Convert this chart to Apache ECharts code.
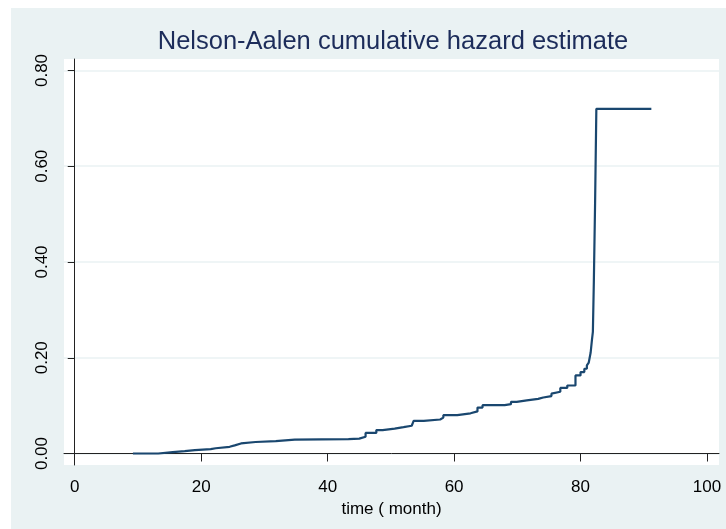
<!DOCTYPE html>
<html>
<head>
<meta charset="utf-8">
<script src="https://cdn.jsdelivr.net/npm/echarts@6/dist/echarts.min.js"></script>
<style>
  html, body { margin: 0; padding: 0; background: #ffffff; }
  #chart { position: absolute; left: 11px; top: 8px; width: 715px; height: 521px; }
</style>
</head>
<body>
<div id="chart"></div>
<script>
// step times (months) and Nelson-Aalen cumulative hazard after each step
const times = [9.2, 13.2, 15.5, 17.4, 19.0, 21.5, 22.3, 24.5, 25.3, 26.3, 28.6, 31.8, 34.8,
  43.3, 45.0, 46.0, 47.7, 48.7, 50.6, 52.0, 53.3, 53.6, 55.2, 57.8, 58.3, 60.5, 62.6, 63.7,
  64.5, 68.0, 69.0, 69.9, 71.5, 73.3, 74.1, 75.4, 75.7, 76.8, 77.9, 79.2, 80.0, 80.6, 81.0,
  81.3, 81.6, 81.8, 81.95, 82.1, 82.3, 82.5, 91.2];
const hazard = [0, 0.003, 0.005, 0.007, 0.009, 0.011, 0.014, 0.017, 0.021, 0.024, 0.026, 0.029, 0.030,
  0.031, 0.035, 0.043, 0.049, 0.052, 0.055, 0.058, 0.061, 0.068, 0.071, 0.075, 0.080, 0.084, 0.088, 0.096,
  0.101, 0.103, 0.108, 0.111, 0.114, 0.117, 0.120, 0.125, 0.129, 0.137, 0.142, 0.163, 0.170, 0.177, 0.184,
  0.190, 0.211, 0.237, 0.254, 0.356, 0.522, 0.720, 0.720];
const xTicks = [0, 20, 40, 60, 80, 100];
const yTicks = [0, 0.2, 0.4, 0.6, 0.8];

const chart = echarts.init(document.getElementById("chart"));
const font = "'Liberation Sans', Arial, sans-serif";

chart.setOption({
  backgroundColor: "#eaf2f3",
  animation: false,
  title: {
    text: "Nelson-Aalen cumulative hazard estimate",
    left: 382,
    top: 21,
    padding: 0,
    textAlign: "center",
    textStyle: { fontFamily: font, fontSize: 25.5, fontWeight: "normal", color: "#1c2c5a" },
  },
  grid: {
    left: 53, right: 7, top: 51, bottom: 64,
    show: true, backgroundColor: "#ffffff", borderWidth: 0,
  },
  xAxis: {
    type: "value",
    min: -1.7,
    max: 101.9,
    name: "time ( month)",
    nameLocation: "middle",
    nameGap: 31,
    nameTextStyle: { fontFamily: font, fontSize: 17, color: "#000" },
    axisLine: { lineStyle: { color: "#222", width: 1 } },
    axisTick: { length: 8, customValues: xTicks, lineStyle: { color: "#222" } },
    axisLabel: { customValues: xTicks, margin: 14, fontFamily: font, fontSize: 17, color: "#000" },
    splitLine: { show: false },
  },
  yAxis: {
    type: "value",
    min: -0.024,
    max: 0.824,
    axisLine: { show: true, lineStyle: { color: "#222", width: 1 } },
    axisTick: { show: true, length: 7, customValues: yTicks, lineStyle: { color: "#222" } },
    axisLabel: {
      customValues: yTicks, rotate: 90, margin: 13,
      fontFamily: font, fontSize: 17, color: "#000",
      formatter: (v) => v.toFixed(2),
    },
    splitLine: { show: true, lineStyle: { color: "#eaf2f3", width: 1.5 } },
  },
  series: [{
    type: "line",
    step: "end",
    symbol: "none",
    data: times.map((t, i) => [t, hazard[i]]),
    lineStyle: { color: "#1a476f", width: 2.2 },
  }],
});
</script>
</body>
</html>
